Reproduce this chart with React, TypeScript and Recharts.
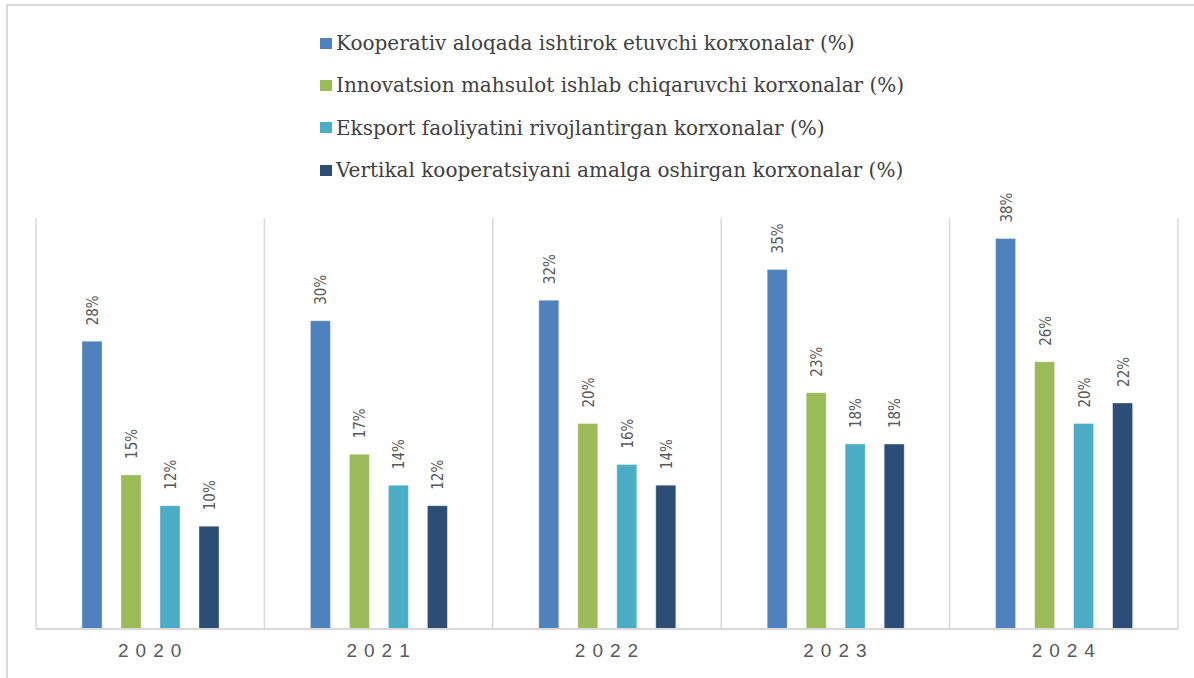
import {
  BarChart,
  Bar,
  XAxis,
  YAxis,
  CartesianGrid,
  LabelList,
} from "recharts";

const years = ["2020", "2021", "2022", "2023", "2024"];
const kooperativ = [28, 30, 32, 35, 38];
const innovatsion = [15, 17, 20, 23, 26];
const eksport = [12, 14, 16, 18, 20];
const vertikal = [10, 12, 14, 18, 22];

const seriesNames = [
  "Kooperativ aloqada ishtirok etuvchi korxonalar (%)",
  "Innovatsion mahsulot ishlab chiqaruvchi korxonalar (%)",
  "Eksport faoliyatini rivojlantirgan korxonalar (%)",
  "Vertikal kooperatsiyani amalga oshirgan korxonalar (%)",
];
const seriesColors = ["#4F81BD", "#9BBB59", "#4BACC6", "#2C4D75"];
const seriesKeys = ["kooperativ", "innovatsion", "eksport", "vertikal"];

const data = years.map((year, i) => ({
  year,
  idx: i + 0.5,
  kooperativ: kooperativ[i],
  innovatsion: innovatsion[i],
  eksport: eksport[i],
  vertikal: vertikal[i],
}));

const gridTicks = [0, 1, 2, 3, 4, 5];

// rotated value label sitting above each bar
function BarLabel(props: any) {
  const { x, y, width, value } = props;
  const cx = Number(x) + Number(width) / 2 + 1;
  const cy = Number(y) - 16;
  return (
    <text
      x={cx}
      y={cy}
      transform={`rotate(-90 ${cx} ${cy})`}
      textAnchor="start"
      dominantBaseline="central"
      fill="#595959"
      fontSize={15}
      fontFamily="'Liberation Sans Narrow', 'DejaVu Sans Condensed', 'Liberation Sans', sans-serif"
    >
      {value}%
    </text>
  );
}

function YearTick(props: any) {
  const { x, y, payload } = props;
  return (
    <text
      x={x + 3}
      y={y + 20}
      textAnchor="middle"
      fill="#595959"
      fontSize={19}
      letterSpacing={7}
      fontFamily="'Liberation Sans', Arial, sans-serif"
    >
      {payload.value}
    </text>
  );
}

function LegendList() {
  return (
    <div
      style={{
        position: "absolute",
        left: 320,
        top: 22,
        fontFamily: "'DejaVu Serif', 'Liberation Serif', serif",
      }}
    >
      {seriesNames.map((name, i) => (
        <div
          key={name}
          style={{
            display: "flex",
            alignItems: "center",
            height: 42.3,
            fontSize: 20,
            color: "#404040",
            whiteSpace: "nowrap",
          }}
        >
          <span
            style={{
              display: "inline-block",
              width: 12,
              height: 11,
              background: seriesColors[i],
              marginRight: 4,
            }}
          />
          <span>{name}</span>
        </div>
      ))}
    </div>
  );
}

export default function App() {
  return (
    <div
      style={{
        position: "absolute",
        left: 0,
        top: 0,
        width: 1194,
        height: 678,
        background: "#fff",
        overflow: "hidden",
      }}
    >
      <div
        style={{
          position: "absolute",
          left: 6,
          top: 4,
          width: 1300,
          height: 800,
          borderLeft: "2px solid #d9d9d9",
          borderTop: "2px solid #d9d9d9",
        }}
      />
      <LegendList />
      <div style={{ position: "absolute", left: 0, top: 0 }}>
        <BarChart
          width={1194}
          height={678}
          data={data}
          margin={{ top: 218, right: 16, left: 36, bottom: 0 }}
          barSize={20}
          barGap={19}
        >
          <XAxis
            xAxisId="grid"
            dataKey="idx"
            type="number"
            domain={[0, 5]}
            ticks={gridTicks}
            hide
          />
          <CartesianGrid
            xAxisId="grid"
            horizontal={false}
            stroke="#d9d9d9"
            strokeWidth={1.5}
          />
          <XAxis
            dataKey="year"
            height={49}
            axisLine={{ stroke: "#d9d9d9", strokeWidth: 2 }}
            tickLine={false}
            tick={<YearTick />}
          />
          <YAxis hide domain={[0, 40]} />
          {seriesKeys.map((key, i) => (
            <Bar
              key={key}
              dataKey={key}
              name={seriesNames[i]}
              fill={seriesColors[i]}
              stroke="rgba(255,255,255,0.35)"
              strokeWidth={1}
              isAnimationActive={false}
            >
              <LabelList dataKey={key} content={<BarLabel />} />
            </Bar>
          ))}
        </BarChart>
      </div>
    </div>
  );
}
